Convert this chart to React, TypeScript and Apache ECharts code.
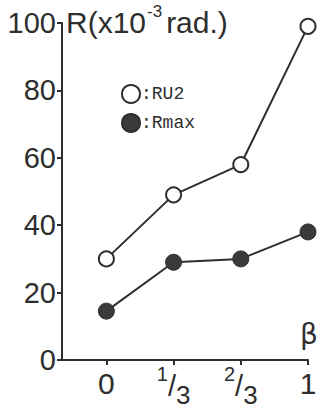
import React, { useEffect, useRef } from 'react';
import * as echarts from 'echarts';

const betaValues = [0, 1 / 3, 2 / 3, 1];
const betaLabels = ['{p|0}', '{n|1}{sl|/}{d|3}', '{n|2}{sl|/}{d|3}', '{p|1}'];
const ru2Values = [30, 49, 58, 99];
const rmaxValues = [14.5, 29, 30, 38];
const yTicks = [0, 20, 40, 60, 80, 100];

const INK = '#2e2e2e';
const FONT = 'Liberation Sans';

export default function App() {
  const ref = useRef<HTMLDivElement>(null);
  useEffect(() => {
    const chart = echarts.init(ref.current!, null, { renderer: 'svg' });
    const opt: any = {
      animation: false,
      backgroundColor: '#ffffff',
      grid: { left: 62, right: 14, top: 23, bottom: 49, outerBoundsMode: 'none', containLabel: false },
      legend: {
        orient: 'vertical',
        left: 121,
        top: 84,
        padding: 0,
        itemGap: 9,
        itemWidth: 18,
        itemHeight: 18,
        icon: 'circle',
        formatter: ':{name}',
        textStyle: { fontFamily: 'Liberation Mono', fontSize: 18, color: INK, padding: [0, 0, 0, -4] },
        data: ['RU2', 'Rmax'],
      },
      xAxis: {
        type: 'value',
        min: -0.22,
        max: 1,
        splitLine: { show: false },
        axisLine: { show: true, onZero: false, lineStyle: { color: INK, width: 2 } },
        axisTick: { show: true, customValues: betaValues, length: 5, inside: false, lineStyle: { color: INK, width: 2 } },
        axisLabel: {
          customValues: betaValues,
          margin: 4,
          color: INK,
          fontFamily: FONT,
          fontSize: 29,
          formatter: (v: number) => {
            let best = 0;
            betaValues.forEach((b, i) => { if (Math.abs(b - v) < Math.abs(betaValues[best] - v)) best = i; });
            return betaLabels[best];
          },
          rich: {
            p: { fontSize: 30, fontFamily: FONT, color: INK, lineHeight: 38, verticalAlign: 'middle' },
            n: { fontSize: 20, fontFamily: FONT, color: INK, lineHeight: 20, verticalAlign: 'top' },
            sl: { fontSize: 29, fontFamily: FONT, color: INK, lineHeight: 44, verticalAlign: 'middle' },
            d: { fontSize: 26, fontFamily: FONT, color: INK, lineHeight: 26, verticalAlign: 'bottom' },
          },
        },
      },
      yAxis: {
        type: 'value',
        min: 0,
        max: 100,
        interval: 20,
        splitLine: { show: false },
        axisLine: { show: true, onZero: false, lineStyle: { color: INK, width: 2 } },
        axisTick: { show: true, length: 5, lineStyle: { color: INK, width: 2 } },
        axisLabel: {
          margin: 6,
          color: INK,
          fontFamily: FONT,
          fontSize: 29,
          formatter: (v: number) => (yTicks.includes(v) ? String(v) : ''),
        },
      },
      graphic: [
        {
          type: 'text',
          left: 66,
          top: 3,
          style: {
            text: '{m|R(x10}{s|-3}{m|rad.)}',
            rich: {
              m: { fontSize: 30, fontFamily: FONT, fill: INK, lineHeight: 34, verticalAlign: 'bottom' },
              s: { fontSize: 17, fontFamily: FONT, fill: INK, lineHeight: 17, verticalAlign: 'top', padding: [0, 4, 0, 1] },
            },
          },
        },
        {
          type: 'text',
          left: 300,
          top: 320,
          style: { text: 'β', fontSize: 28, fontFamily: 'DejaVu Sans', fill: INK },
        },
      ],
      series: [
        {
          name: 'RU2',
          type: 'line',
          data: betaValues.map((b, i) => [b, ru2Values[i]]),
          symbol: 'circle',
          symbolSize: 15,
          lineStyle: { color: INK, width: 2 },
          itemStyle: { color: '#ffffff', borderColor: INK, borderWidth: 2 },
          z: 3,
        },
        {
          name: 'Rmax',
          type: 'line',
          data: betaValues.map((b, i) => [b, rmaxValues[i]]),
          symbol: 'circle',
          symbolSize: 16,
          lineStyle: { color: INK, width: 2 },
          itemStyle: { color: '#3a3a3a', borderColor: INK, borderWidth: 1 },
          z: 3,
        },
      ],
    };
    chart.setOption(opt);
    return () => chart.dispose();
  }, []);
  return <div ref={ref} style={{ position: 'fixed', left: 0, top: 0, width: 322, height: 409 }} />;
}
